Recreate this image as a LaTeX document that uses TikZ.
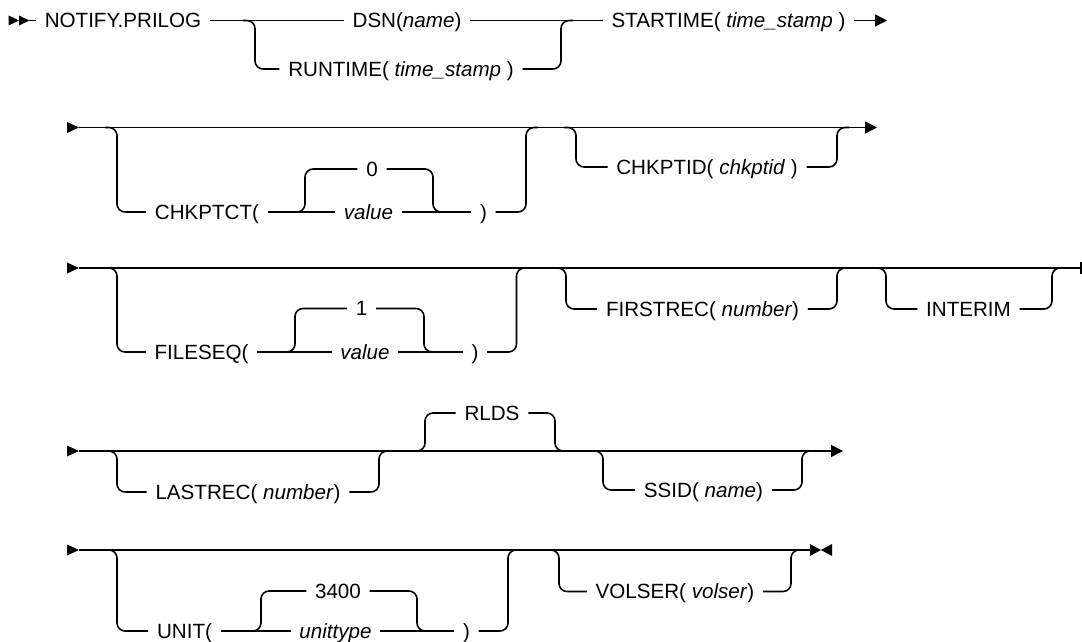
\documentclass[tikz,border=0pt]{standalone}
\usepackage{fontspec}
\setmainfont{Liberation Sans}
\usepackage{tikz}
\usetikzlibrary{arrows.meta}

\begin{document}
\begin{tikzpicture}[
    x=0.5pt, y=-0.5pt,
    line width=0.8pt,
    kw/.style={inner xsep=4pt, inner ysep=1pt, text height=7.4pt, text depth=0pt, font=\fontsize{10.3}{12}\selectfont},
    rail/.style={rounded corners=4pt},
    cont/.style={-{Triangle[length=6pt,width=6pt]}}
]
\useasboundingbox (0,0) rectangle (1082,642);

% Row 1
\fill (8.6,15.5) -- (19,20.5) -- (8.6,25.5) -- cycle;
\fill (19,15.5) -- (29.5,20.5) -- (19,25.5) -- cycle;
\coordinate (s1) at (29,20.5);
\coordinate (e1) at (887,20.5);
\coordinate (f1a) at (255,20.5);
\coordinate (f1b) at (561,20.5);
\node[kw] (notify) at (123,20.5) {NOTIFY.PRILOG};
\node[kw] (dsn) at (407,20.5) {DSN(\textit{name})};
\node[kw] (runtime) at (401,69) {RUNTIME( \textit{time\_stamp} )};
\node[kw] (startime) at (728.5,20.5) {STARTIME( \textit{time\_stamp} )};

\draw (s1) -- (notify);
\draw (notify) -- (dsn);
\draw (dsn) -- (startime);
\draw[cont] (startime) -- (e1);
\draw[rail] ([xshift=-6pt]f1a) -- (f1a) |- (runtime);
\draw[rail] (runtime) -| (f1b) -- ([xshift=6pt]f1b);

% Row 2
\coordinate (s2) at (79,127.5);
\coordinate (e2) at (877,127.5);
\coordinate (b2a) at (117,127.5);
\coordinate (b2b) at (526,127.5);
\coordinate (i2a) at (305,212);
\coordinate (i2b) at (433,212);
\coordinate (b2c) at (576,127.5);
\coordinate (b2d) at (837,127.5);
\node[kw] (chkptct) at (207,212) {CHKPTCT(};
\node[kw] (zero) at (372,169) {0};
\node[kw] (val2) at (368.5,212) {\textit{value}};
\node[kw] (rp2) at (483.5,212) {)};
\node[kw] (chkptid) at (707,167) {CHKPTID( \textit{chkptid} )};

\draw[cont] (s2) -- (e2);
\draw[rail] ([xshift=-6pt]b2a) -- (b2a) |- (chkptct);
\draw (chkptct) -- (val2);
\draw (val2) -- (rp2);
\draw[rail] (rp2) -| (b2b) -- ([xshift=6pt]b2b);
\draw[rail] ([xshift=-6pt]i2a) -- (i2a) |- (zero);
\draw[rail] (zero) -| (i2b) -- ([xshift=6pt]i2b);
\draw[rail] ([xshift=-6pt]b2c) -- (b2c) |- (chkptid);
\draw[rail] (chkptid) -| (b2d) -- ([xshift=6pt]b2d);

% Row 3
\coordinate (s3) at (79,268);
\coordinate (e3) at (1081,268);
\coordinate (b3a) at (117,268);
\coordinate (b3b) at (516.5,268);
\coordinate (i3a) at (295,352);
\coordinate (i3b) at (424,352);
\coordinate (b3c) at (566,268);
\coordinate (b3d) at (837,268);
\coordinate (b3e) at (886,268);
\coordinate (b3f) at (1052,268);
\node[kw] (fileseq) at (201.5,352) {FILESEQ(};
\node[kw] (one) at (361.5,308.5) {1};
\node[kw] (val3) at (365,352) {\textit{value}};
\node[kw] (rp3) at (475,352) {)};
\node[kw] (firstrec) at (702.5,309) {FIRSTREC( \textit{number})};
\node[kw] (interim) at (968.5,309) {INTERIM};

\draw (s3) -- (e3);
\draw ([yshift=3pt]e3) -- ([yshift=-3pt]e3);
\draw[rail] ([xshift=-6pt]b3a) -- (b3a) |- (fileseq);
\draw (fileseq) -- (val3);
\draw (val3) -- (rp3);
\draw[rail] (rp3) -| (b3b) -- ([xshift=6pt]b3b);
\draw[rail] ([xshift=-6pt]i3a) -- (i3a) |- (one);
\draw[rail] (one) -| (i3b) -- ([xshift=6pt]i3b);
\draw[rail] ([xshift=-6pt]b3c) -- (b3c) |- (firstrec);
\draw[rail] (firstrec) -| (b3d) -- ([xshift=6pt]b3d);
\draw[rail] ([xshift=-6pt]b3e) -- (b3e) |- (interim);
\draw[rail] (interim) -| (b3f) -- ([xshift=6pt]b3f);

% Row 4
\coordinate (s4) at (79,451);
\coordinate (e4) at (843,451);
\coordinate (b4a) at (117,451);
\coordinate (b4b) at (379,451);
\coordinate (b4c) at (425,451);
\coordinate (b4d) at (555,451);
\coordinate (b4e) at (603,451);
\coordinate (b4f) at (802,451);
\node[kw] (lastrec) at (248,492) {LASTREC( \textit{number})};
\node[kw] (rlds) at (492,413) {RLDS};
\node[kw] (ssid) at (703.5,490) {SSID( \textit{name})};

\draw[cont] (s4) -- (e4);
\draw[rail] ([xshift=-6pt]b4a) -- (b4a) |- (lastrec);
\draw[rail] (lastrec) -| (b4b) -- ([xshift=6pt]b4b);
\draw[rail] ([xshift=-6pt]b4c) -- (b4c) |- (rlds);
\draw[rail] (rlds) -| (b4d) -- ([xshift=6pt]b4d);
\draw[rail] ([xshift=-6pt]b4e) -- (b4e) |- (ssid);
\draw[rail] (ssid) -| (b4f) -- ([xshift=6pt]b4f);

% Row 5
\coordinate (s5) at (79,550);
\coordinate (e5) at (810,550);
\coordinate (b5a) at (117,550);
\coordinate (b5b) at (508,550);
\coordinate (i5a) at (261,631);
\coordinate (i5b) at (417,631);
\coordinate (b5c) at (559,550);
\coordinate (b5d) at (791,550);
\node[kw] (unit) at (184.5,631) {UNIT(};
\node[kw] (dflt) at (338,591) {3400};
\node[kw] (unittype) at (335.5,631) {\textit{unittype}};
\node[kw] (rp5) at (466.5,631) {)};
\node[kw] (volser) at (675,591.5) {VOLSER( \textit{volser})};

\draw (s5) -- (e5);
\fill (810,544) -- (821,550) -- (810,556) -- cycle;
\fill (832,544) -- (821,550) -- (832,556) -- cycle;
\draw[rail] ([xshift=-6pt]b5a) -- (b5a) |- (unit);
\draw (unit) -- (unittype);
\draw (unittype) -- (rp5);
\draw[rail] (rp5) -| (b5b) -- ([xshift=6pt]b5b);
\draw[rail] ([xshift=-6pt]i5a) -- (i5a) |- (dflt);
\draw[rail] (dflt) -| (i5b) -- ([xshift=6pt]i5b);
\draw[rail] ([xshift=-6pt]b5c) -- (b5c) |- (volser);
\draw[rail] (volser) -| (b5d) -- ([xshift=6pt]b5d);

% row starts
\foreach \y in {127.5,268,451,550}
  \fill (67,\y-5.5) -- (79,\y) -- (67,\y+5.5) -- cycle;

\end{tikzpicture}
\end{document}
